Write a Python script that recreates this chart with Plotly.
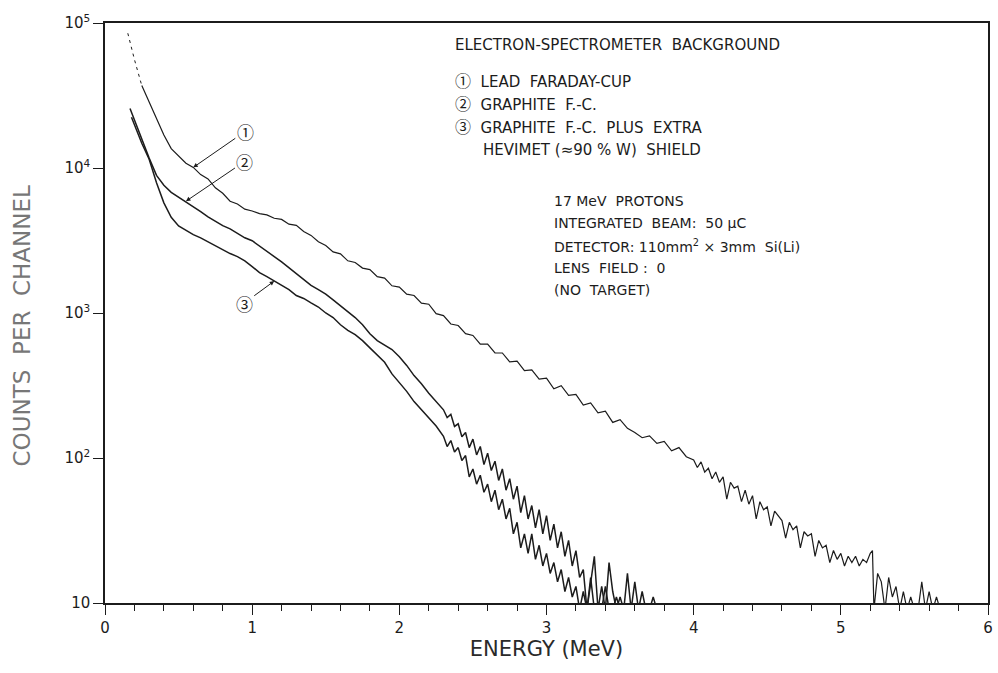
import math
import plotly.graph_objects as go

# ---------------- data ----------------
# Curve 1: lead Faraday cup (dashed start, then solid)
E1_dash = [0.155, 0.20, 0.25]
C1_dash = [85000, 56000, 37000]

E1 = [0.25, 0.30, 0.35, 0.40, 0.45, 0.50, 0.55, 0.60, 0.65, 0.70, 0.75, 0.80, 0.85, 0.90, 0.95,
      1.00, 1.05, 1.10, 1.15, 1.20, 1.25, 1.30, 1.35, 1.40, 1.45, 1.50, 1.55, 1.60, 1.65, 1.70,
      1.75, 1.80, 1.85, 1.90, 1.95, 2.00, 2.05, 2.10, 2.15, 2.20, 2.25, 2.30, 2.35, 2.40, 2.45,
      2.50, 2.55, 2.60, 2.65, 2.70, 2.75, 2.80, 2.85, 2.90, 2.95, 3.00, 3.05, 3.10, 3.15, 3.20,
      3.25, 3.30, 3.35, 3.40, 3.45, 3.50, 3.55, 3.60, 3.65, 3.70, 3.75, 3.80, 3.85, 3.90, 3.95,
      4.000, 4.025, 4.050, 4.075, 4.100, 4.125, 4.150, 4.175, 4.200, 4.225, 4.250, 4.275, 4.300,
      4.325, 4.350, 4.375, 4.400, 4.425, 4.450, 4.475, 4.500, 4.525, 4.550, 4.575, 4.600, 4.625,
      4.650, 4.675, 4.700, 4.725, 4.750, 4.775, 4.800, 4.825, 4.850, 4.875, 4.900, 4.925, 4.950,
      4.975, 5.000, 5.025, 5.050, 5.075, 5.100, 5.125, 5.150, 5.175, 5.200, 5.215, 5.225, 5.250,
      5.275, 5.300, 5.325, 5.350, 5.375, 5.400, 5.425, 5.450, 5.475, 5.500, 5.525, 5.550, 5.575,
      5.600, 5.625, 5.650, 5.675]
C1 = [37000, 28500, 21500, 16900, 13600, 12200, 10800, 10100, 9000, 8400, 7300, 6700, 5900, 5650, 5200,
      5050, 4850, 4750, 4500, 4420, 4100, 4020, 3650, 3430, 3100, 2920, 2640, 2560, 2290, 2230,
      2040, 1990, 1780, 1740, 1540, 1510, 1350, 1320, 1170, 1150, 990, 960, 840, 820, 720,
      700, 610, 610, 530, 530, 460, 465, 400, 405, 350, 355, 300, 315, 270, 275,
      232, 240, 205, 210, 176, 184, 160, 150, 138, 142, 126, 130, 112, 118, 102,
      97, 86, 94, 80, 85, 72, 80, 68, 74, 52, 68, 62, 64,
      50, 60, 48, 55, 38, 50, 44, 46, 34, 43, 40, 37, 28,
      36, 32, 34, 24, 31, 29, 30, 21, 27, 24, 25, 19, 23,
      20, 22, 18, 21, 19, 21, 18, 20, 19, 22, 23, 9, 16,
      14, 9, 15, 11, 13, 9, 12, 9, 11, 9, 9, 14, 9,
      12, 9, 11, 9]

# Curve 2: graphite Faraday cup
E2 = [0.17, 0.20, 0.25, 0.30, 0.35, 0.40, 0.45, 0.50, 0.55, 0.60, 0.65, 0.70, 0.75, 0.80, 0.85,
      0.90, 0.95, 1.00, 1.05, 1.10, 1.15, 1.20, 1.25, 1.30, 1.35, 1.40, 1.45, 1.50, 1.55, 1.60,
      1.65, 1.70, 1.75, 1.80, 1.85, 1.90, 1.95, 2.00, 2.05, 2.10, 2.15, 2.20, 2.25,
      2.300, 2.325, 2.350, 2.375, 2.400, 2.425, 2.450, 2.475, 2.500, 2.525, 2.550, 2.575, 2.600,
      2.625, 2.650, 2.675, 2.700, 2.725, 2.750, 2.775, 2.800, 2.825, 2.850, 2.875, 2.900, 2.925,
      2.950, 2.975, 3.000, 3.025, 3.050, 3.075, 3.100, 3.125, 3.150, 3.175, 3.200, 3.225, 3.250,
      3.275, 3.300, 3.325, 3.350, 3.375, 3.400, 3.425, 3.450, 3.475, 3.500, 3.525, 3.550, 3.575,
      3.600, 3.625, 3.650, 3.675, 3.700, 3.725, 3.750]
C2 = [25700, 21400, 15800, 11700, 8900, 7600, 6800, 6300, 5900, 5400, 5000, 4600, 4300, 4000, 3800,
      3550, 3300, 3150, 2900, 2700, 2450, 2250, 2050, 1860, 1700, 1550, 1450, 1350, 1230, 1120,
      1020, 930, 830, 720, 645, 600, 560, 500, 435, 370, 325, 280, 245,
      215, 190, 200, 165, 172, 140, 150, 118, 135, 105, 120, 90, 108,
      82, 95, 70, 84, 60, 72, 52, 64, 42, 55, 38, 47, 33,
      44, 30, 40, 27, 35, 24, 31, 21, 27, 18, 23, 15, 17,
      9, 14, 21, 9, 13, 9, 19, 12, 9, 11, 9, 16, 9,
      14, 9, 12, 9, 9, 11, 9]

# Curve 3: graphite Faraday cup plus extra Hevimet shield
E3 = [0.18, 0.20, 0.25, 0.30, 0.35, 0.40, 0.45, 0.50, 0.55, 0.60, 0.65, 0.70, 0.75, 0.80, 0.85,
      0.90, 0.95, 1.00, 1.05, 1.10, 1.15, 1.20, 1.25, 1.30, 1.35, 1.40, 1.45, 1.50, 1.55, 1.60,
      1.65, 1.70, 1.75, 1.80, 1.85, 1.90, 1.95, 2.00, 2.05, 2.10, 2.15, 2.20, 2.25,
      2.300, 2.325, 2.350, 2.375, 2.400, 2.425, 2.450, 2.475, 2.500, 2.525, 2.550, 2.575, 2.600,
      2.625, 2.650, 2.675, 2.700, 2.725, 2.750, 2.775, 2.800, 2.825, 2.850, 2.875, 2.900, 2.925,
      2.950, 2.975, 3.000, 3.025, 3.050, 3.075, 3.100, 3.125, 3.150, 3.175, 3.200, 3.225, 3.250,
      3.275, 3.300, 3.325, 3.350, 3.375, 3.400, 3.425, 3.450, 3.475, 3.500]
C3 = [22400, 20000, 14800, 11500, 7900, 5750, 4570, 3980, 3700, 3470, 3300, 3100, 2950, 2750, 2570,
      2450, 2290, 2090, 1900, 1780, 1660, 1550, 1450, 1320, 1260, 1175, 1100, 1000, 930, 830,
      760, 710, 645, 575, 513, 457, 380, 331, 288, 245, 214, 190, 166,
      141, 120, 132, 110, 118, 96, 104, 74, 84, 66, 76, 58, 66,
      50, 60, 44, 52, 38, 45, 30, 36, 24, 30, 22, 30, 20,
      25, 18, 22, 16, 19, 14, 17, 12, 15, 11, 13, 9, 12,
      9, 15, 9, 10, 9, 13, 9, 9, 11, 9]

x_tick_vals = [0, 1, 2, 3, 4, 5, 6]
x_tick_text = ["0", "1", "2", "3", "4", "5", "6"]
y_tick_vals = [10, 100, 1000, 10000, 100000]
y_tick_text = ["10", "10<sup>2</sup>", "10<sup>3</sup>", "10<sup>4</sup>", "10<sup>5</sup>"]

# ---------------- figure ----------------
INK = "#1c1c1c"
FONT = "DejaVu Sans"
CIRC = "Noto Sans CJK JP"

def circ(ch, size=16):
    return "<span style=\"font-family:'%s';font-size:%dpx\">%s</span>" % (CIRC, size, ch)

fig = go.Figure()
fig.add_trace(go.Scatter(x=E1_dash, y=C1_dash, mode="lines",
                         line=dict(color=INK, width=1, dash="3px,4px"), showlegend=False))
fig.add_trace(go.Scatter(x=E1, y=C1, mode="lines", line=dict(color=INK, width=1.2), showlegend=False))
fig.add_trace(go.Scatter(x=E2, y=C2, mode="lines", line=dict(color=INK, width=1.5), showlegend=False))
fig.add_trace(go.Scatter(x=E3, y=C3, mode="lines", line=dict(color=INK, width=1.5), showlegend=False))

# circled-number labels with arrows (annotation y on a log axis is given as log10)
labels = [("①", E1[7], C1[7], 52, -36),
          ("②", E2[8], C2[8], 59, -40),
          ("③", E3[20], C3[20], -30, 22)]
for txt, xv, yv, axp, ayp in labels:
    fig.add_annotation(x=xv, y=math.log10(yv), xref="x", yref="y", text=txt, showarrow=True,
                       ax=axp, ay=ayp, arrowhead=2, arrowsize=0.9, arrowwidth=1,
                       arrowcolor=INK, standoff=0, startstandoff=0,
                       font=dict(family=CIRC, size=17, color=INK))

def px2paper_x(px):
    return (px - 105) / 888.0

def px2paper_y(py):
    return (603 - py) / 580.0

text_lines = [
    ("ELECTRON-SPECTROMETER  BACKGROUND", 455, 45, 15),
    (circ("①") + "  LEAD  FARADAY-CUP", 455, 80, 15),
    (circ("②") + "  GRAPHITE  F.-C.", 455, 103, 15),
    (circ("③") + "  GRAPHITE  F.-C.  PLUS  EXTRA", 455, 126, 15),
    ("HEVIMET (≈90 % W)  SHIELD", 483, 150, 15),
    ("17 MeV  PROTONS", 555, 201, 14),
    ("INTEGRATED  BEAM:  50 µC", 555, 223, 14),
    ("DETECTOR: 110mm<sup>2</sup> × 3mm  Si(Li)", 555, 246, 14),
    ("LENS  FIELD :  0", 555, 268, 14),
    ("(NO  TARGET)", 555, 290, 14),
]
for txt, px, py, fs in text_lines:
    fig.add_annotation(x=px2paper_x(px), y=px2paper_y(py), xref="paper", yref="paper",
                       text=txt, showarrow=False, xanchor="left", yanchor="middle",
                       font=dict(family=FONT, size=fs, color=INK))

# vertical axis title placed like the reference
fig.add_annotation(x=px2paper_x(22), y=px2paper_y(325), xref="paper", yref="paper",
                   text="COUNTS  PER  CHANNEL", textangle=-90, showarrow=False,
                   xanchor="center", yanchor="middle",
                   font=dict(family=FONT, size=23, color="#777777"))

fig.update_layout(
    width=998, height=673,
    margin=dict(l=105, r=5, t=23, b=70),
    paper_bgcolor="white", plot_bgcolor="white",
    font=dict(family=FONT, color=INK),
    showlegend=False,
)
fig.update_xaxes(
    range=[0, 6], tickvals=x_tick_vals, ticktext=x_tick_text,
    showgrid=False, zeroline=False, showline=True, linecolor=INK, linewidth=1.5, mirror=True,
    ticks="outside", ticklen=10, tickwidth=1.2, tickcolor=INK,
    minor=dict(dtick=0.2, ticks="outside", ticklen=6, tickwidth=1.2, tickcolor=INK, showgrid=False),
    tickfont=dict(family=FONT, size=15, color=INK),
    title=dict(text="ENERGY (MeV)", font=dict(family=FONT, size=21, color="#2a2a2a"), standoff=6),
)
fig.update_yaxes(
    type="log", range=[1, 5], tickvals=y_tick_vals, ticktext=y_tick_text,
    showgrid=False, zeroline=False, showline=True, linecolor=INK, linewidth=1.5, mirror=True,
    ticks="outside", ticklen=10, tickwidth=1.2, tickcolor=INK,
    tickfont=dict(family=FONT, size=15, color=INK),
)

fig.write_html("out.html")
